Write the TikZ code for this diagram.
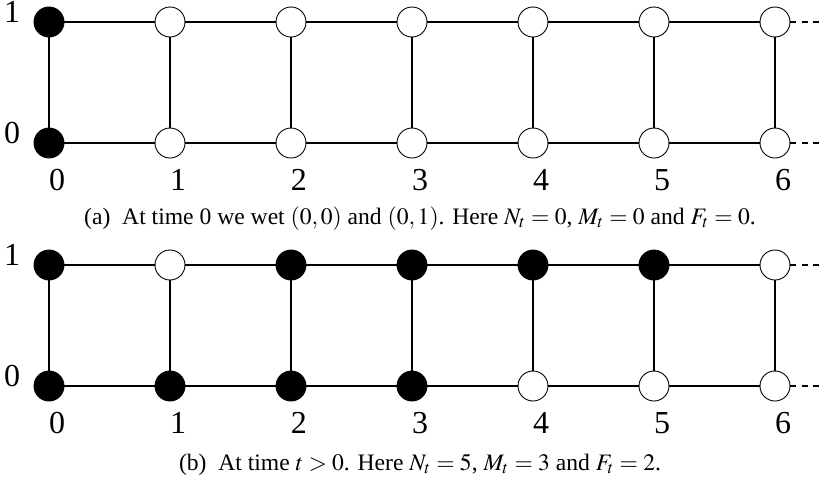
\documentclass[tikz,border=0pt]{standalone}
\usepackage{mathptmx}
\usepackage[no-math]{fontspec}
\setmainfont{Liberation Serif}
\usetikzlibrary{positioning}

\tikzset{
  site/.style={circle,draw,line width=0.45pt,minimum size=15pt,inner sep=0pt,fill=white},
  wet/.style={site,fill=black},
  bond/.style={line width=0.7pt},
  open end/.style={bond,dash pattern=on 3pt off 2.6pt},
  coord label/.style={font=\fontsize{16}{18}\selectfont,anchor=base,inner sep=0pt},
  caption text/.style={font=\fontsize{11.8}{13}\selectfont,anchor=base,inner sep=0pt},
}

\begin{document}
\begin{tikzpicture}[x=0.5pt,y=-0.5pt]
\useasboundingbox (0,0) rectangle (827,478);
% (a) time 0: only column 0 wet
\foreach \i/\up/\dn [evaluate=\i as \xx using 49+121*\i] in
    {0/wet/wet,1/site/site,2/site/site,3/site/site,4/site/site,5/site/site,6/site/site} {
  \node[\up] (a-\i-1) at (\xx,22) {};
  \node[\dn] (a-\i-0) at (\xx,143) {};
  \node[coord label] (a-col\i) at (\xx+8,190) {\i};
}
% (b) time t > 0
\foreach \i/\up/\dn [evaluate=\i as \xx using 49+121*\i] in
    {0/wet/wet,1/site/wet,2/wet/wet,3/wet/wet,4/wet/site,5/wet/site,6/site/site} {
  \node[\up] (b-\i-1) at (\xx,265) {};
  \node[\dn] (b-\i-0) at (\xx,386) {};
  \node[coord label] (b-col\i) at (\xx+8,433) {\i};
}
% bonds
\foreach \p in {a,b} {
  \foreach \i in {0,...,6}
    \draw[bond] (\p-\i-0) -- (\p-\i-1);
  \foreach \i [evaluate=\i as \j using int(\i+1)] in {0,...,5} {
    \draw[bond] (\p-\i-0) -- (\p-\j-0);
    \draw[bond] (\p-\i-1) -- (\p-\j-1);
  }
}
% strip goes on to the right
\coordinate (a-end-1) at (822,22);
\coordinate (a-end-0) at (822,143);
\coordinate (b-end-1) at (822,265);
\coordinate (b-end-0) at (822,386);
\foreach \p in {a,b}
  \foreach \r in {0,1}
    \draw[open end] (\p-6-\r) -- (\p-end-\r);
% row labels
\node[coord label] (a-row1) at (12,22) {1};
\node[coord label] (a-row0) at (12,143) {0};
\node[coord label] (b-row1) at (12,265) {1};
\node[coord label] (b-row0) at (12,386) {0};
% captions
\node[caption text] (cap-a) at (420,224)
  {(a)\enspace At time 0 we wet $(0,0)$ and $(0,1)$. Here $N_t=0$, $M_t=0$ and $F_t=0$.};
\node[caption text] (cap-b) at (420,470)
  {(b)\enspace At time $t>0$. Here $N_t=5$, $M_t=3$ and $F_t=2$.};
\end{tikzpicture}
\end{document}
